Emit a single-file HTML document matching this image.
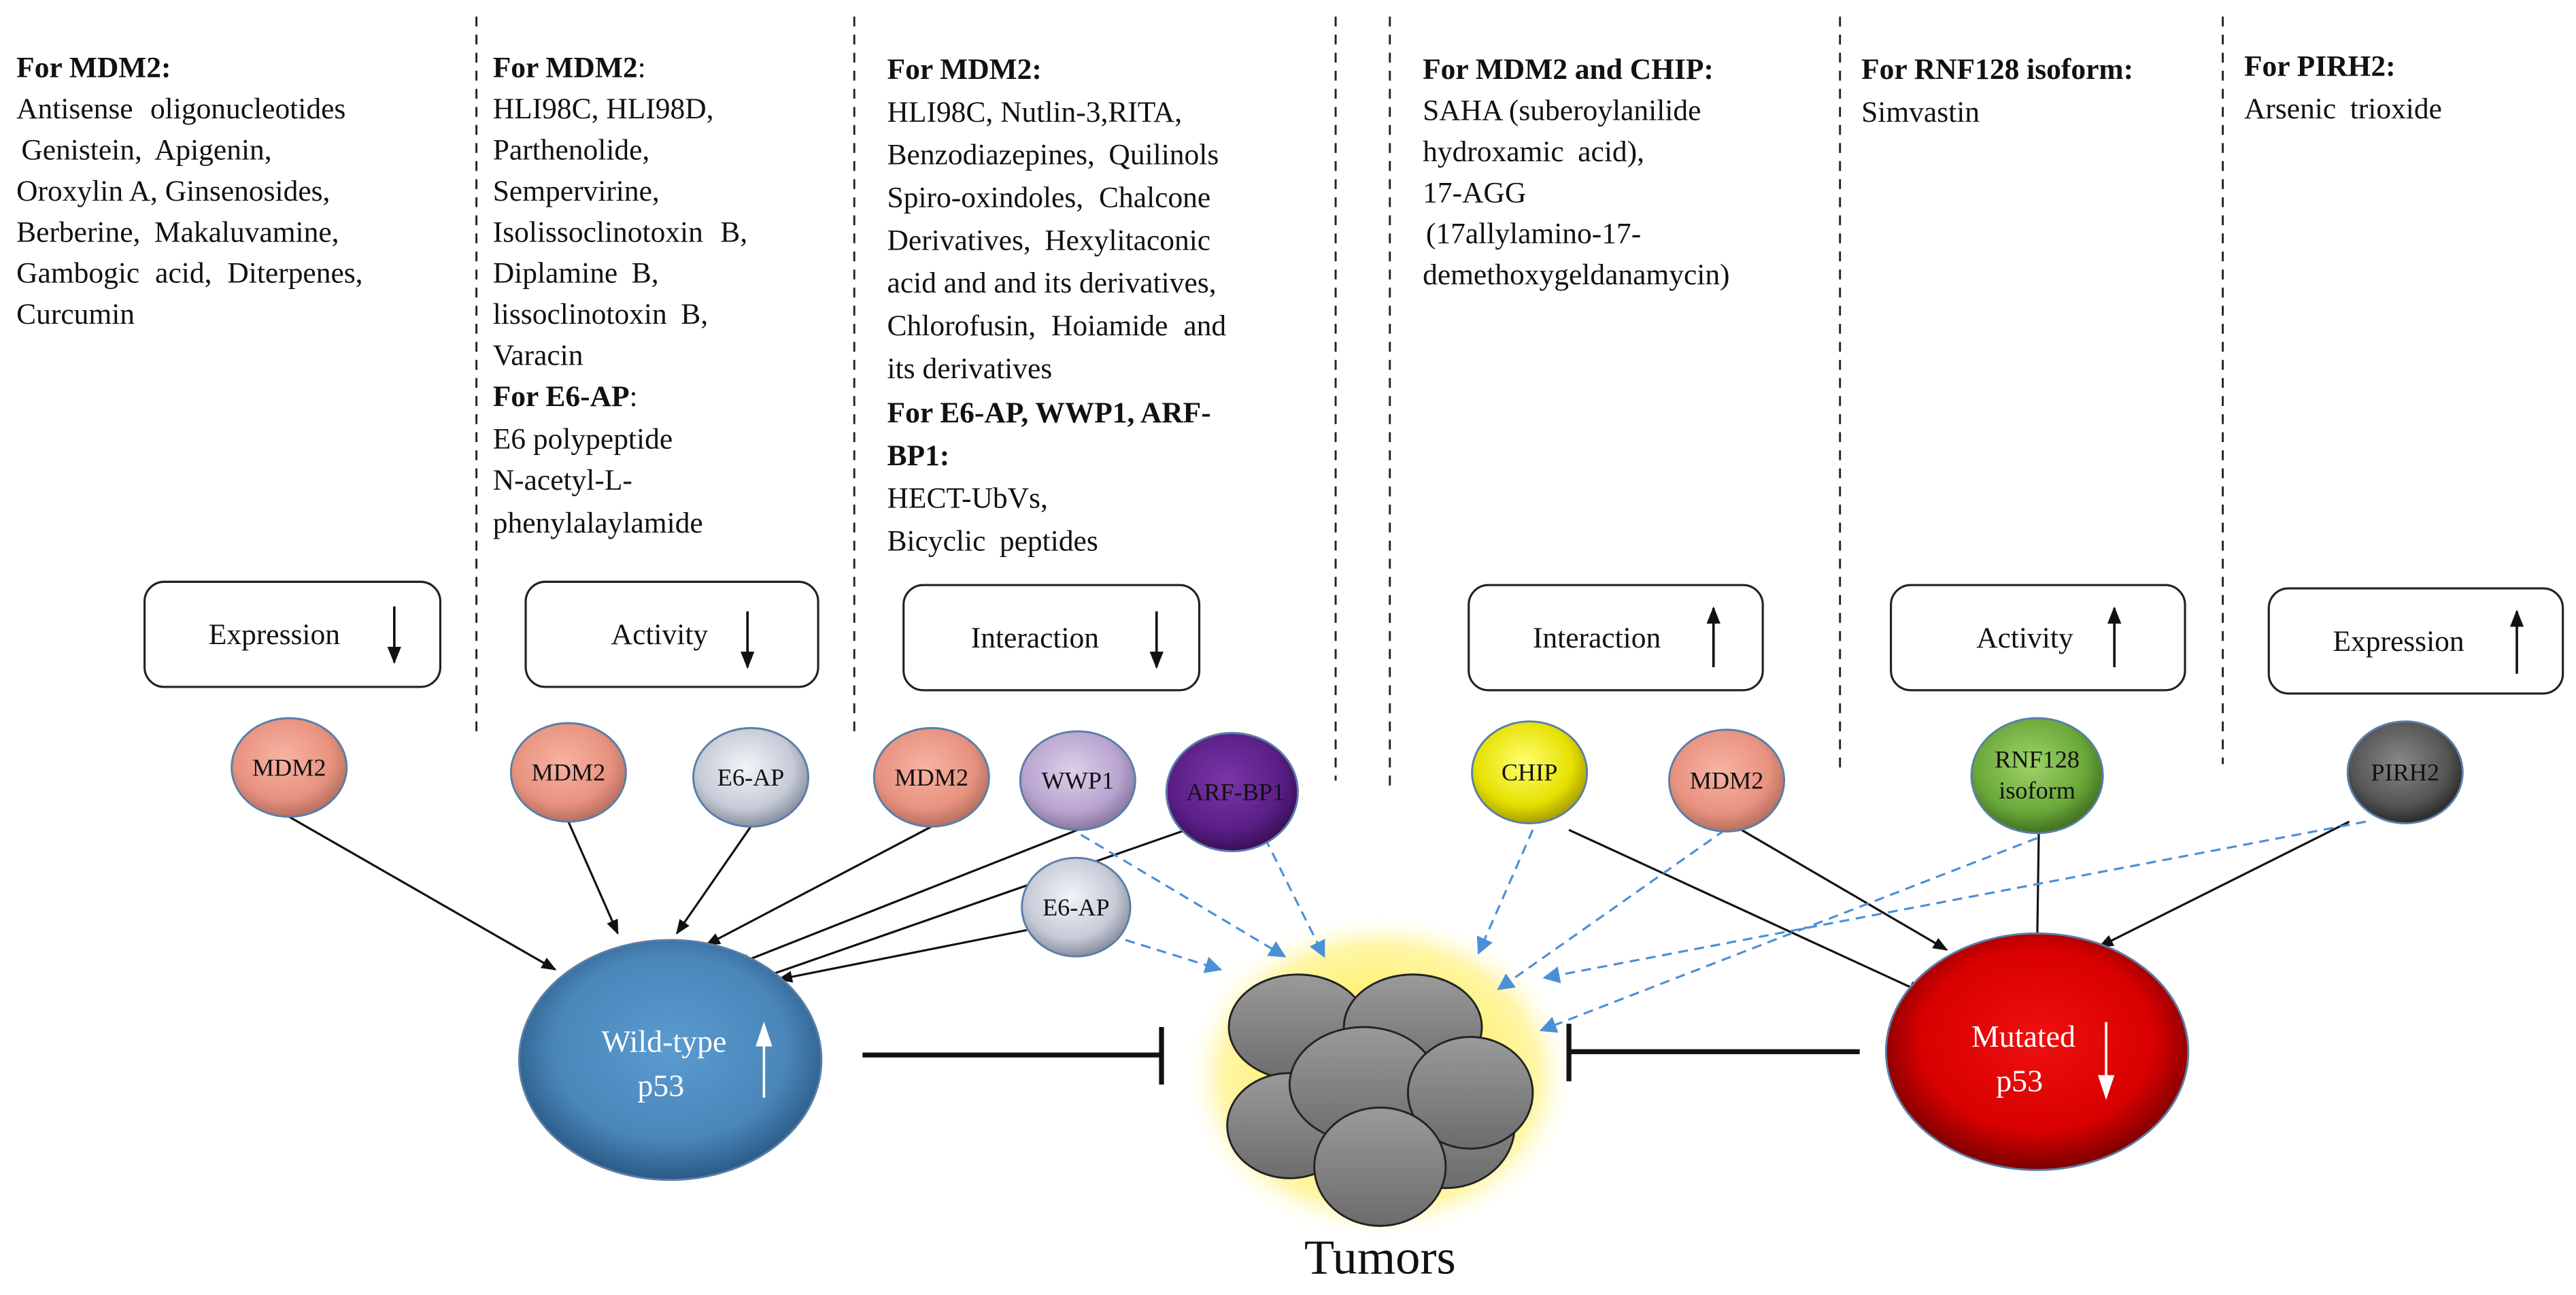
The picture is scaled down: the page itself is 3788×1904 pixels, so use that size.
<!DOCTYPE html>
<html><head><meta charset="utf-8"><style>
html,body{margin:0;padding:0;background:#fff;}
svg{display:block;}
text{font-family:"Liberation Serif",serif;fill:#111;}
</style></head><body>
<svg width="3788" height="1904" viewBox="0 0 1568 788" xmlns="http://www.w3.org/2000/svg">
<defs>
<radialGradient id="gSal" cx="45%" cy="40%" r="60%"><stop offset="0" stop-color="#f7b3a3"/><stop offset="0.7" stop-color="#e8927f"/><stop offset="1" stop-color="#b87060"/></radialGradient>
<radialGradient id="gGrey" cx="45%" cy="40%" r="60%"><stop offset="0" stop-color="#f2f4f8"/><stop offset="0.7" stop-color="#c5cad6"/><stop offset="1" stop-color="#8a90a0"/></radialGradient>
<radialGradient id="gLav" cx="45%" cy="40%" r="60%"><stop offset="0" stop-color="#ddd0ea"/><stop offset="0.7" stop-color="#b8a4cf"/><stop offset="1" stop-color="#8a78a0"/></radialGradient>
<radialGradient id="gPur" cx="45%" cy="40%" r="60%"><stop offset="0" stop-color="#7a35a8"/><stop offset="0.7" stop-color="#5a1f86"/><stop offset="1" stop-color="#3a0f5a"/></radialGradient>
<radialGradient id="gYel" cx="45%" cy="40%" r="60%"><stop offset="0" stop-color="#ffff70"/><stop offset="0.7" stop-color="#e6e000"/><stop offset="1" stop-color="#a8a000"/></radialGradient>
<radialGradient id="gGrn" cx="45%" cy="40%" r="60%"><stop offset="0" stop-color="#9fd36a"/><stop offset="0.7" stop-color="#6aa83a"/><stop offset="1" stop-color="#437022"/></radialGradient>
<radialGradient id="gDk" cx="45%" cy="40%" r="60%"><stop offset="0" stop-color="#888"/><stop offset="0.7" stop-color="#555"/><stop offset="1" stop-color="#2a2a2a"/></radialGradient>
<radialGradient id="gBlue" cx="50%" cy="45%" r="55%"><stop offset="0" stop-color="#5a9bd0"/><stop offset="0.7" stop-color="#4a86ba"/><stop offset="1" stop-color="#2a5a85"/></radialGradient>
<radialGradient id="gRed" cx="50%" cy="45%" r="55%"><stop offset="0" stop-color="#f01010"/><stop offset="0.7" stop-color="#d80000"/><stop offset="1" stop-color="#7a0000"/></radialGradient>
<radialGradient id="gGlow" cx="50%" cy="50%" r="50%"><stop offset="0.55" stop-color="#fff27a"/><stop offset="0.8" stop-color="#fff6a8"/><stop offset="1" stop-color="#fff" stop-opacity="0"/></radialGradient>
<linearGradient id="gCloud" x1="0" y1="0" x2="0" y2="1"><stop offset="0" stop-color="#9a9a9a"/><stop offset="1" stop-color="#6c6c6c"/></linearGradient>
<marker id="ab" viewBox="0 0 10 10" refX="9" refY="5" markerWidth="7" markerHeight="7" orient="auto"><path d="M0,1 L10,5 L0,9 Z" fill="#111"/></marker>
<marker id="au" viewBox="0 0 10 10" refX="9" refY="5" markerWidth="8" markerHeight="8" orient="auto"><path d="M0,0 L10,5 L0,10 Z" fill="#4a90d6"/></marker>
</defs>

<g stroke="#222" stroke-width="1.2" stroke-dasharray="6,5">
<line x1="290" y1="10" x2="290" y2="450"/>
<line x1="520" y1="10" x2="520" y2="445"/>
<line x1="813" y1="10" x2="813" y2="475"/>
<line x1="846" y1="10" x2="846" y2="480"/>
<line x1="1120" y1="10" x2="1120" y2="470"/>
<line x1="1353" y1="10" x2="1353" y2="465"/>
</g>

<g font-size="18">
<text x="10" y="47" font-weight="bold">For MDM2:</text>
<text x="10" y="72" word-spacing="6">Antisense oligonucleotides</text>
<text x="13" y="97" word-spacing="4">Genistein, Apigenin,</text>
<text x="10" y="122">Oroxylin A, Ginsenosides,</text>
<text x="10" y="147" word-spacing="4">Berberine, Makaluvamine,</text>
<text x="10" y="172" word-spacing="5">Gambogic acid, Diterpenes,</text>
<text x="10" y="197">Curcumin</text>

<text x="300" y="47"><tspan font-weight="bold">For MDM2</tspan>:</text>
<text x="300" y="72">HLI98C, HLI98D,</text>
<text x="300" y="97">Parthenolide,</text>
<text x="300" y="122">Sempervirine,</text>
<text x="300" y="147" word-spacing="6">Isolissoclinotoxin B,</text>
<text x="300" y="172" word-spacing="4">Diplamine B,</text>
<text x="300" y="197" word-spacing="4">lissoclinotoxin B,</text>
<text x="300" y="222">Varacin</text>
<text x="300" y="247"><tspan font-weight="bold">For E6-AP</tspan>:</text>
<text x="300" y="273">E6 polypeptide</text>
<text x="300" y="298">N-acetyl-L-</text>
<text x="300" y="324">phenylalaylamide</text>

<text x="540" y="48" font-weight="bold">For MDM2:</text>
<text x="540" y="74">HLI98C, Nutlin-3,RITA,</text>
<text x="540" y="100" word-spacing="4">Benzodiazepines, Quilinols</text>
<text x="540" y="126" word-spacing="5">Spiro-oxindoles, Chalcone</text>
<text x="540" y="152" word-spacing="4">Derivatives, Hexylitaconic</text>
<text x="540" y="178">acid and and its derivatives,</text>
<text x="540" y="204" word-spacing="5">Chlorofusin, Hoiamide and</text>
<text x="540" y="230">its derivatives</text>
<text x="540" y="257" font-weight="bold">For E6-AP, WWP1, ARF-</text>
<text x="540" y="283" font-weight="bold">BP1:</text>
<text x="540" y="309">HECT-UbVs,</text>
<text x="540" y="335" word-spacing="4">Bicyclic peptides</text>

<text x="866" y="48" font-weight="bold">For MDM2 and CHIP:</text>
<text x="866" y="73">SAHA (suberoylanilide</text>
<text x="866" y="98" word-spacing="4">hydroxamic acid),</text>
<text x="866" y="123">17-AGG</text>
<text x="868" y="148">(17allylamino-17-</text>
<text x="866" y="173">demethoxygeldanamycin)</text>

<text x="1133" y="48" font-weight="bold">For RNF128 isoform:</text>
<text x="1133" y="74">Simvastin</text>
<text x="1366" y="46" font-weight="bold">For PIRH2:</text>
<text x="1366" y="72" word-spacing="4">Arsenic trioxide</text>
</g>

<g fill="#fff" stroke="#222" stroke-width="1.3">
<rect x="88" y="354" width="180" height="64" rx="12"/>
<rect x="320" y="354" width="178" height="64" rx="12"/>
<rect x="550" y="356" width="180" height="64" rx="12"/>
<rect x="894" y="356" width="179" height="64" rx="12"/>
<rect x="1151" y="356" width="179" height="64" rx="12"/>
<rect x="1381" y="358" width="179" height="64" rx="12"/>
</g>
<g font-size="18">
<text x="127" y="392">Expression</text>
<text x="372" y="392">Activity</text>
<text x="591" y="394">Interaction</text>
<text x="933" y="394">Interaction</text>
<text x="1203" y="394">Activity</text>
<text x="1420" y="396">Expression</text>
</g>
<g stroke="#111" stroke-width="1.5">
<line x1="240" y1="369" x2="240" y2="403" marker-end="url(#ab)"/>
<line x1="455" y1="372" x2="455" y2="406" marker-end="url(#ab)"/>
<line x1="704" y1="372" x2="704" y2="406" marker-end="url(#ab)"/>
<line x1="1043" y1="406" x2="1043" y2="370" marker-end="url(#ab)"/>
<line x1="1287" y1="406" x2="1287" y2="370" marker-end="url(#ab)"/>
<line x1="1532" y1="410" x2="1532" y2="372" marker-end="url(#ab)"/>
</g>

<ellipse cx="840" cy="655" rx="120" ry="100" fill="url(#gGlow)"/>
<g fill="url(#gCloud)" stroke="#222" stroke-width="1.2">
<ellipse cx="790" cy="625" rx="42" ry="32"/>
<ellipse cx="860" cy="625" rx="42" ry="32"/>
<ellipse cx="785" cy="685" rx="38" ry="32"/>
<ellipse cx="880" cy="685" rx="42" ry="38"/>
<ellipse cx="830" cy="660" rx="45" ry="35"/>
<ellipse cx="895" cy="665" rx="38" ry="34"/>
<ellipse cx="840" cy="710" rx="40" ry="36"/>
</g>

<g stroke="#111" stroke-width="3">
<line x1="525" y1="642" x2="707" y2="642"/>
<line x1="707" y1="625" x2="707" y2="660"/>
<line x1="1132" y1="640" x2="955" y2="640"/>
<line x1="955" y1="623" x2="955" y2="658"/>
</g>

<g stroke="#111" stroke-width="1.3" fill="none" marker-end="url(#ab)">
<line x1="176" y1="497" x2="338" y2="590"/>
<line x1="346" y1="500" x2="376" y2="568"/>
<line x1="457" y1="503" x2="412" y2="568"/>
<line x1="567" y1="503" x2="430" y2="575"/>
<line x1="656" y1="505" x2="448" y2="587"/>
<line x1="722" y1="505" x2="458" y2="597"/>
<line x1="625" y1="566" x2="474" y2="596"/>
<line x1="955" y1="505" x2="1170" y2="604"/>
<line x1="1060" y1="505" x2="1185" y2="578"/>
<line x1="1241" y1="507" x2="1240" y2="576"/>
<line x1="1430" y1="500" x2="1278" y2="576"/>
</g>

<g stroke="#4a90d6" stroke-width="1.3" stroke-dasharray="6,4" fill="none" marker-end="url(#au)">
<line x1="658" y1="508" x2="782" y2="582"/>
<line x1="770" y1="510" x2="806" y2="582"/>
<line x1="685" y1="572" x2="743" y2="590"/>
<line x1="933" y1="505" x2="900" y2="580"/>
<line x1="1050" y1="505" x2="912" y2="602"/>
<line x1="1240" y1="510" x2="938" y2="627"/>
<line x1="1440" y1="500" x2="940" y2="595"/>
</g>

<g stroke="#5a7ea8" stroke-width="1.2">
<ellipse cx="176" cy="467" rx="35" ry="30" fill="url(#gSal)"/>
<ellipse cx="346" cy="470" rx="35" ry="30" fill="url(#gSal)"/>
<ellipse cx="457" cy="473" rx="35" ry="30" fill="url(#gGrey)"/>
<ellipse cx="567" cy="473" rx="35" ry="30" fill="url(#gSal)"/>
<ellipse cx="656" cy="475" rx="35" ry="30" fill="url(#gLav)"/>
<ellipse cx="750" cy="482" rx="40" ry="36" fill="url(#gPur)"/>
<ellipse cx="655" cy="552" rx="33" ry="30" fill="url(#gGrey)"/>
<ellipse cx="931" cy="470" rx="35" ry="31" fill="url(#gYel)"/>
<ellipse cx="1051" cy="475" rx="35" ry="31" fill="url(#gSal)"/>
<ellipse cx="1240" cy="472" rx="40" ry="35" fill="url(#gGrn)"/>
<ellipse cx="1464" cy="470" rx="35" ry="31" fill="url(#gDk)"/>
<ellipse cx="408" cy="645" rx="92" ry="73" fill="url(#gBlue)"/>
<ellipse cx="1240" cy="640" rx="92" ry="72" fill="url(#gRed)"/>
</g>
<g font-size="15" text-anchor="middle">
<text x="176" y="472">MDM2</text>
<text x="346" y="475">MDM2</text>
<text x="457" y="478">E6-AP</text>
<text x="567" y="478">MDM2</text>
<text x="656" y="480">WWP1</text>
<text x="752" y="487">ARF-BP1</text>
<text x="655" y="557">E6-AP</text>
<text x="931" y="475">CHIP</text>
<text x="1051" y="480">MDM2</text>
<text x="1240" y="467">RNF128</text>
<text x="1240" y="486">isoform</text>
<text x="1464" y="475">PIRH2</text>
</g>
<g font-size="19">
<text x="366" y="640" style="fill:#fff">Wild-type</text>
<text x="388" y="667" style="fill:#fff">p53</text>
<text x="1200" y="637" style="fill:#fff">Mutated</text>
<text x="1215" y="664" style="fill:#fff">p53</text>
</g>
<g stroke="#fff" stroke-width="1.5">
<line x1="465" y1="668" x2="465" y2="630"/>
<path d="M461,636 L465,624 L469,636 Z" fill="#fff"/>
<line x1="1282" y1="622" x2="1282" y2="660"/>
<path d="M1278,655 L1282,667 L1286,655 Z" fill="#fff"/>
</g>
<text x="840" y="775" font-size="30" text-anchor="middle">Tumors</text>
</svg>
</body></html>
